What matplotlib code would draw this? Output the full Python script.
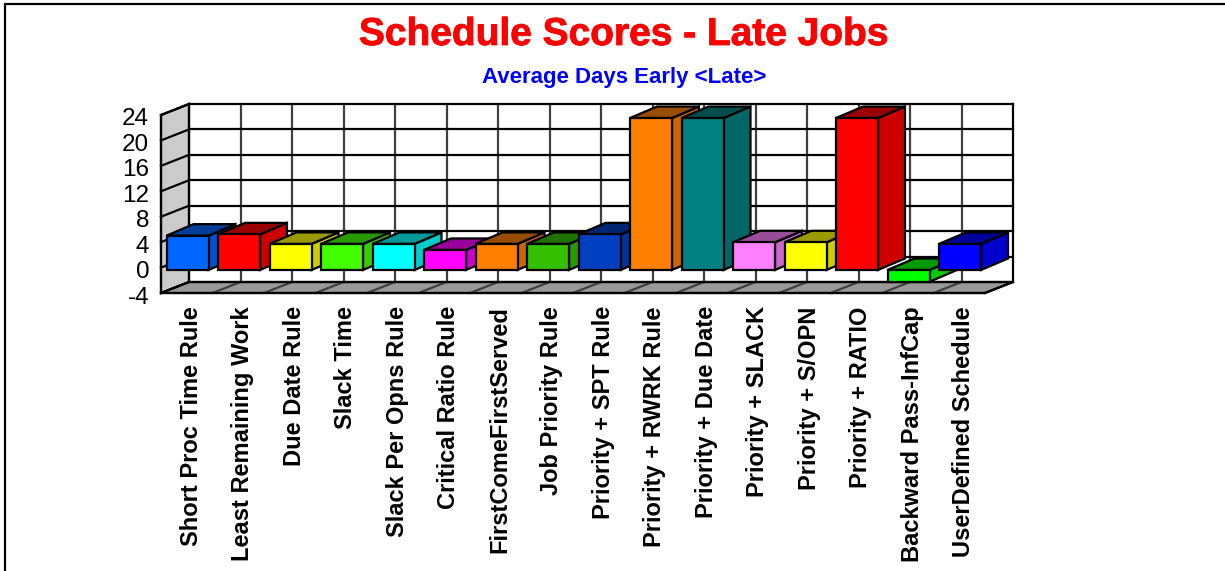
import matplotlib
matplotlib.use("Agg")
import matplotlib.pyplot as plt
import matplotlib.patheffects as pe
from matplotlib.patches import Polygon
from matplotlib.lines import Line2D
from matplotlib.transforms import ScaledTranslation

categories = ["Short Proc Time Rule", "Least Remaining Work", "Due Date Rule", "Slack Time",
              "Slack Per Opns Rule", "Critical Ratio Rule", "FirstComeFirstServed",
              "Job Priority Rule", "Priority + SPT Rule", "Priority + RWRK Rule",
              "Priority + Due Date", "Priority + SLACK", "Priority + S/OPN", "Priority + RATIO",
              "Backward Pass-InfCap", "UserDefined Schedule"]
values = [5.4, 5.6, 4.1, 4.1, 4.1, 3.15, 4.1, 4.1, 5.6, 23.9, 23.9, 4.35, 4.35, 23.9, -1.85, 4.1]
front_colors = ["#0066FF", "#FF0000", "#FFFF00", "#44FF00", "#00FFFF", "#FF00FF", "#FF8000", "#33C000",
                "#0040C0", "#FF8000", "#008080", "#FF80FF", "#FFFF00", "#FF0000", "#00FF00", "#0000FF"]
top_colors = ["#003D99", "#990000", "#999900", "#299900", "#009999", "#990099", "#994D00", "#1F7300",
              "#002673", "#994D00", "#004D4D", "#994D99", "#999900", "#990000", "#009900", "#000099"]
side_colors = ["#0052CC", "#CC0000", "#CCCC00", "#36CC00", "#00CCCC", "#CC00CC", "#CC6600", "#269900",
               "#003399", "#CC6600", "#006666", "#CC66CC", "#CCCC00", "#CC0000", "#00CC00", "#0000CC"]
y_ticks = [-4, 0, 4, 8, 12, 16, 20, 24]

W, H = 1225, 571
LW = 1.6
fig = plt.figure(figsize=(W / 100, H / 100), dpi=100, facecolor="white")
plt.rcParams["font.family"] = ["Liberation Sans", "DejaVu Sans"]
L, R, T, B = 161, 985, 115, 293
ax = fig.add_axes([L / W, 1 - B / H, (R - L) / W, (B - T) / H])
n = len(categories)
ax.set_xlim(0, n)
ax.set_ylim(-4, 24)
ax.patch.set_visible(False)
for s in ax.spines.values():
    s.set_visible(False)
px = (R - L) / n
py = (B - T) / 28
DX, DY = 28 / px, 11 / py          # depth of the chart box
BDX, BDY = 27 / px, 11.5 / py      # depth of a bar
BASE = -2.4 / py                   # bar base offset
BW, BX = 42 / px, 5.5 / px

# walls
ax.add_patch(Polygon([(0, -4), (DX, -4 + DY), (DX, 24 + DY), (0, 24)], fc="#CCCCCC", ec="black", lw=LW, clip_on=False, zorder=1))
ax.add_patch(Polygon([(0, -4), (DX, -4 + DY), (n + DX, -4 + DY), (n, -4)], fc="#999999", ec="black", lw=LW, clip_on=False, zorder=1))
# grid
for i in range(1, n):
    ax.plot([i + DX, i + DX], [-4 + DY, 24 + DY], color="#404040", lw=LW, clip_on=False, zorder=2, solid_capstyle="butt")
    ax.plot([i, i + DX], [-4, -4 + DY], color="#404040", lw=LW, clip_on=False, zorder=2)
for v in y_ticks:
    ax.plot([DX, n + DX], [v + DY, v + DY], color="black", lw=LW, clip_on=False, zorder=3, solid_capstyle="projecting")
    ax.plot([0, DX], [v, v + DY], color="black", lw=LW, clip_on=False, zorder=3)
ax.plot([n + DX, n + DX], [-4 + DY, 24 + DY], color="black", lw=LW, clip_on=False, zorder=3, solid_capstyle="projecting")
ax.plot([DX, DX], [-4 + DY, 24 + DY], color="black", lw=LW, clip_on=False, zorder=3, solid_capstyle="projecting")
ax.plot([0, 0], [-4, 24], color="black", lw=LW, clip_on=False, zorder=3)
ax.plot([0, n], [-4, -4], color="black", lw=LW, clip_on=False, zorder=3)
ax.plot([n, n + DX], [-4, -4 + DY], color="black", lw=LW, clip_on=False, zorder=3)

# bars
for i, (v, fc, tc, sc) in enumerate(zip(values, front_colors, top_colors, side_colors)):
    x0, x1 = i + BX, i + BX + BW
    lo, hi = BASE + min(v, 0), BASE + max(v, 0)
    z = 10 + i
    kw = dict(ec="black", lw=LW, clip_on=False, zorder=z, joinstyle="miter")
    ax.add_patch(Polygon([(x1, lo), (x1 + BDX, lo + BDY), (x1 + BDX, hi + BDY), (x1, hi)], fc=sc, **kw))
    ax.add_patch(Polygon([(x0, hi), (x0 + BDX, hi + BDY), (x1 + BDX, hi + BDY), (x1, hi)], fc=tc, **kw))
    ax.add_patch(Polygon([(x0, lo), (x1, lo), (x1, hi), (x0, hi)], fc=fc, **kw))

ax.set_yticks(y_ticks)
ax.set_yticklabels([str(v) for v in y_ticks], fontsize=17.5, color="black")
ax.tick_params(axis="y", length=0, pad=8.5)
shift = ScaledTranslation(0, -2 / 100, fig.dpi_scale_trans)
for lab in ax.get_yticklabels():
    lab.set_transform(lab.get_transform() + shift)
ax.set_xticks([i + 0.585 for i in range(n)])
ax.set_xticklabels(categories, rotation=90, ha="center", va="top", fontsize=17, fontweight="bold")
ax.tick_params(axis="x", length=0, pad=9.5)

fig.text(623.5 / W, 1 - 35 / H, "Schedule Scores - Late Jobs", color="#FF0000", fontsize=28, fontweight="bold",
         ha="center", va="center", path_effects=[pe.withStroke(linewidth=0.6, foreground="#FF0000")])
fig.text(624.5 / W, 1 - 78 / H, "Average Days Early <Late>", color="#0000FF", fontsize=16, fontweight="bold", ha="center", va="center")

# outer frame (top and left only)
fig.add_artist(Line2D([5 / W, 5 / W, 1], [0, 1 - 4 / H, 1 - 4 / H], color="black", lw=1.6, transform=fig.transFigure, solid_joinstyle="miter"))

fig.savefig("out.png", dpi=100, facecolor="white")
